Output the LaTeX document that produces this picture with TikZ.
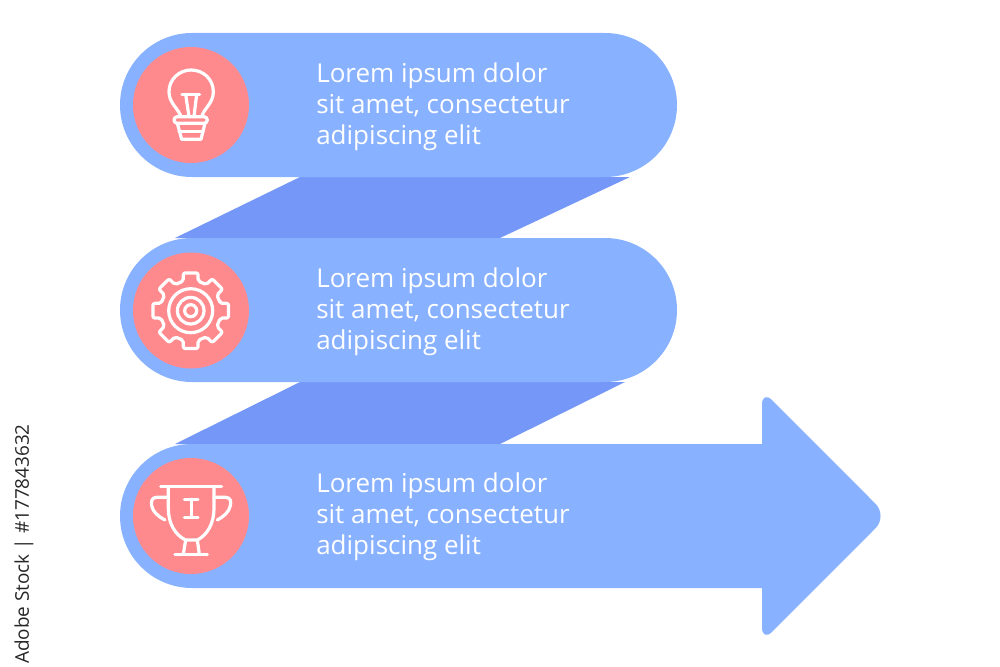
\documentclass[tikz,border=0pt]{standalone}
\usepackage{fontspec}
\setmainfont{Open Sans}
\definecolor{pillblue}{HTML}{88B1FF}
\definecolor{foldblue}{HTML}{7598F8}
\definecolor{badgered}{HTML}{FF8A8E}
\tikzset{
    pill/.style = {fill = pillblue, rounded corners = 54pt},
    fold/.style = {fill = foldblue},
    badge/.style = {circle, fill = badgered, minimum size = 87pt, inner sep = 0pt},
    blurb/.style = {anchor = west, align = left, text = white, inner sep = 0pt,
        font = \fontsize{19.5pt}{23.25pt}\selectfont},
    icon/.style = {draw = white, line width = 2.4pt, line cap = round, line join = round}
}
\begin{document}
\begin{tikzpicture}[x = 0.75pt, y = -0.75pt]
            \useasboundingbox (0, 0) rectangle (1000, 667);
            \fill [fold] (300, 177) -- (630, 177) -- (500, 238) -- (175, 238) -- cycle;
            \fill [fold] (300, 382) -- (625, 382) -- (500, 444) -- (175, 444) -- cycle;

            \fill [pill] (120, 33) rectangle (677, 177);
            \fill [pill] (120, 238) rectangle (677, 382);
            \fill [pillblue] (300, 444) -- (762, 444) [rounded corners = 11pt] -- (762, 390)
                [rounded corners = 13pt] -- (887.7, 516)
                [rounded corners = 11pt] -- (762, 642)
                [sharp corners] -- (762, 588) [rounded corners = 54pt] -- (120, 588) -- (120, 444) -- cycle;

            \node [badge] (bulbBadge) at (191, 105) {};
            \node [badge] (gearBadge) at (191, 310.5) {};
            \node [badge] (cupBadge) at (191, 516) {};

            \node [blurb] (blurbTop) at (316, 106.8) {Lorem ipsum dolor\\sit amet, consectetur\\adipiscing elit};
            \node [blurb] (blurbMid) at (316, 311.8) {Lorem ipsum dolor\\sit amet, consectetur\\adipiscing elit};
            \node [blurb] (blurbLow) at (316, 516.8) {Lorem ipsum dolor\\sit amet, consectetur\\adipiscing elit};

            \begin{scope}[shift = {(120, 30)}, x = 0.25pt, y = -0.25pt]
                \draw [icon] (183, 260) .. controls (175, 235) and (147, 220) .. (147, 185)
                    .. controls (147, 148) and (178, 120) .. (213, 120)
                    .. controls (250, 120) and (280, 148) .. (280, 185)
                    .. controls (280, 220) and (252, 235) .. (245, 260);
                \draw [icon] (207, 260) -- (197, 193);
                \draw [icon] (222, 260) -- (230, 193);
                \draw [icon] (186, 193) -- (239, 193);
                \draw [icon, rounded corners = 2.5pt] (162, 260) rectangle (262, 280);
                \draw [icon] (172, 280) -- (185, 328) -- (243, 328) -- (255, 280);
                \draw [icon] (177, 304) -- (250, 304);
            \end{scope}

            \begin{scope}[shift = {(190.7, 310.7)}]
                \pgfmathsetmacro{\rootr}{30.5}
                \pgfmathsetmacro{\tipr}{38.5}
                \draw [icon, rounded corners = 1.5pt] (-14:\rootr)
                    \foreach \a in {0, 45, ..., 315} {
                        -- (\a-14:\rootr) -- (\a-11:\tipr) -- (\a+11:\tipr) -- (\a+14:\rootr)
                    } -- cycle;
                \draw [icon] (0, 0) circle (22);
                \draw [icon] (0, 0) circle (13.3);
                \draw [icon] (0, 0) circle (6);
            \end{scope}

            \begin{scope}[shift = {(120, 445)}, x = 0.25pt, y = -0.25pt]
                \draw [icon] (122, 125) -- (305, 125);
                \draw [icon] (145, 125) -- (145, 190) .. controls (145, 235) and (165, 270) .. (197, 285)
                    -- (232, 285) .. controls (262, 270) and (282, 235) .. (282, 190) -- (282, 125);
                \draw [icon] (197, 285) -- (190, 328);
                \draw [icon] (232, 285) -- (238, 328);
                \draw [icon] (165, 328) -- (262, 328);
                \draw [icon] (145, 157) -- (110, 157) .. controls (95, 157) and (93, 170) .. (95, 182)
                    .. controls (98, 200) and (115, 215) .. (135, 225);
                \draw [icon] (282, 157) -- (317, 157) .. controls (332, 157) and (334, 170) .. (331, 182)
                    .. controls (328, 200) and (311, 215) .. (292, 225);
                \draw [icon] (193, 163) -- (234, 163);
                \draw [icon] (213.5, 163) -- (213.5, 217);
                \draw [icon] (193, 217) -- (234, 217);
            \end{scope}

            \node [rotate = 90, text = black!85, inner sep = 0pt, font = \fontsize{14.2pt}{16pt}\selectfont] (stockLabel) at (24, 544) {Adobe Stock | \#177843632};
        \end{tikzpicture}
\end{document}
